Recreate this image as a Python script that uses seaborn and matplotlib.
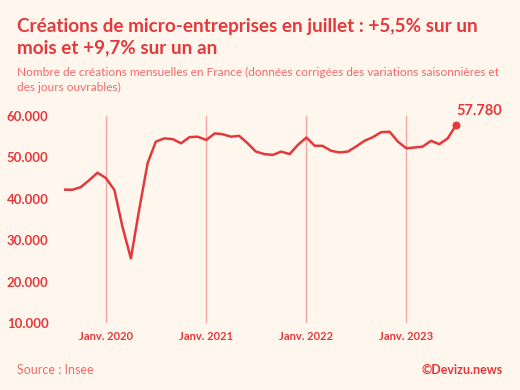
import pandas as pd
import matplotlib
matplotlib.use('Agg')
import matplotlib.pyplot as plt
import seaborn as sns

# monthly micro-enterprise creations, Aug 2019 -> Jul 2023
months = pd.date_range('2019-08-01', periods=48, freq='MS')
creations = [
    42200, 42200, 42800, 44500, 46300,
    45000, 42100, 33300, 25600, 37300, 48600, 53800, 54600, 54400, 53400, 54900, 55000,
    54200, 55800, 55600, 55000, 55200, 53400, 51400, 50800, 50600, 51400, 50800, 53000,
    54800, 52800, 52800, 51600, 51200, 51400, 52600, 54000, 54900, 56100, 56200, 53800,
    52200, 52400, 52600, 54000, 53200, 54600, 57780,
]
tick_dates = pd.to_datetime(['2020-01-01', '2021-01-01', '2022-01-01', '2023-01-01'])
tick_labels = ['Janv. 2020', 'Janv. 2021', 'Janv. 2022', 'Janv. 2023']
y_ticks = [10000, 20000, 30000, 40000, 50000, 60000]
y_labels = ['10.000', '20.000', '30.000', '40.000', '50.000', '60.000']

bg = '#fff7ee'
red = '#e3393c'
light = '#f06a6a'
grid = '#f3a5a5'

sns.set_theme(style='white')
plt.rcParams['font.family'] = ['Lato', 'DejaVu Sans']

df = pd.DataFrame({'mois': months, 'creations': creations})

fig = plt.figure(figsize=(5.2, 3.9), dpi=100, facecolor=bg)
ax = fig.add_axes([64 / 520, 1 - 323 / 390, (456 - 64) / 520, (323 - 116) / 390])
ax.set_facecolor(bg)

sns.lineplot(data=df, x='mois', y='creations', color=red, linewidth=1.8, ax=ax)
ax.scatter([months[-1]], [creations[-1]], s=22, color=red, zorder=5, clip_on=False)
ax.annotate('57.780', (months[-1], creations[-1]), xytext=(0, 5), textcoords='offset points',
            ha='left', va='bottom', color=red, fontsize=10.5, fontweight='bold', annotation_clip=False)

ax.set_xlim(months[0], months[-1])
ax.set_ylim(10000, 60000)
ax.set_xticks(tick_dates)
ax.set_xticklabels(tick_labels)
ax.set_yticks(y_ticks)
ax.set_yticklabels(y_labels)
ax.tick_params(axis='x', length=0, pad=6, labelsize=8, labelcolor=red)
ax.tick_params(axis='y', length=0, pad=11, labelsize=9.5, labelcolor=red)
for lab in ax.get_xticklabels() + ax.get_yticklabels():
    lab.set_fontweight('bold')
ax.xaxis.grid(True, color=grid, linewidth=1)
ax.yaxis.grid(False)
ax.set_xlabel('')
ax.set_ylabel('')
sns.despine(ax=ax, left=True, bottom=True)

fig.text(17 / 520, 1 - 18 / 390, 'Créations de micro-entreprises en juillet : +5,5% sur un\nmois et +9,7% sur un an',
         ha='left', va='top', fontsize=13.6, fontweight='bold', color=red, linespacing=1.3)
fig.text(17 / 520, 1 - 67 / 390, 'Nombre de créations mensuelles en France (données corrigées des variations saisonnières et\ndes jours ouvrables)',
         ha='left', va='top', fontsize=8.55, color=light, linespacing=1.4)
fig.text(17 / 520, 1 - 370 / 390, 'Source : Insee', ha='left', va='center', fontsize=9, color=light)
fig.text(503 / 520, 1 - 370 / 390, '©Devizu.news', ha='right', va='center', fontsize=9,
         fontweight='bold', color=red)

fig.savefig('out.png', dpi=100, facecolor=bg)
